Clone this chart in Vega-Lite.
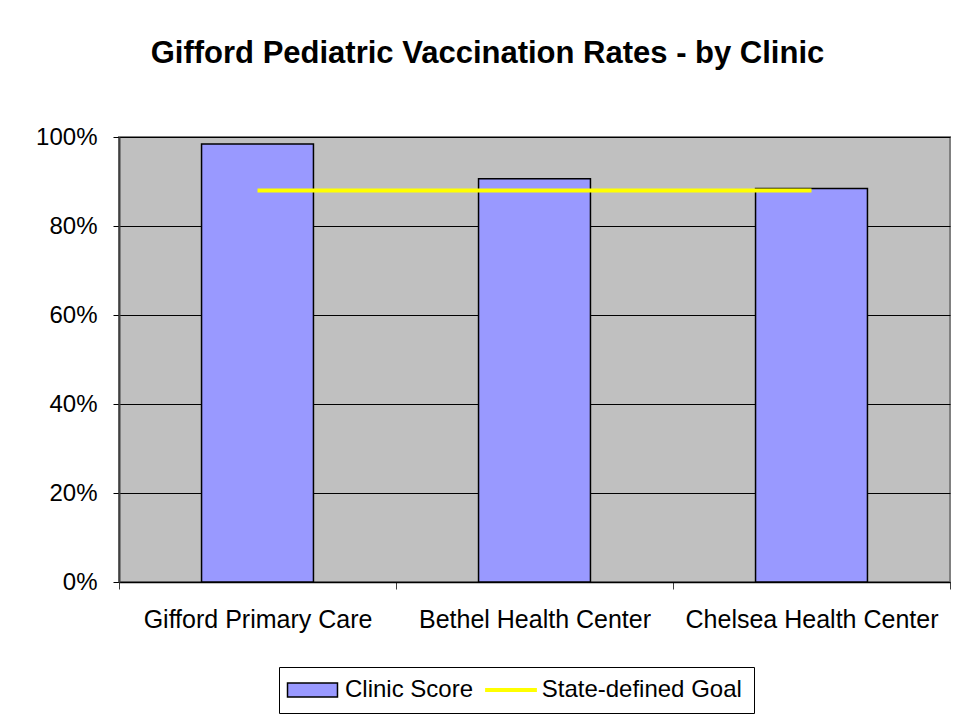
{
  "$schema": "https://vega.github.io/schema/vega-lite/v6.json",
  "autosize": "none",
  "width": 831,
  "height": 445,
  "padding": {"left": 119, "top": 137, "right": 7, "bottom": 135},
  "background": "white",
  "title": {
    "text": "Gifford Pediatric Vaccination Rates - by Clinic",
    "font": "Liberation Sans",
    "fontSize": 31,
    "fontWeight": "bold",
    "color": "black",
    "anchor": "middle",
    "baseline": "alphabetic",
    "offset": 31,
    "dx": -47
  },
  "config": {
    "font": "Liberation Sans",
    "view": {"fill": "#C0C0C0", "stroke": "#808080", "strokeWidth": 2}
  },
  "data": {
    "values": [
      {"clinic": "Gifford Primary Care", "score": 0.984, "goal": 0.88},
      {"clinic": "Bethel Health Center", "score": 0.906, "goal": 0.88},
      {"clinic": "Chelsea Health Center", "score": 0.884, "goal": 0.88}
    ]
  },
  "encoding": {
    "x": {
      "field": "clinic",
      "type": "nominal",
      "sort": null,
      "scale": {"paddingInner": 0, "paddingOuter": 0},
      "axis": {
        "title": null,
        "labelAngle": 0,
        "labelFontSize": 25,
        "labelColor": "black",
        "labelPadding": 18,
        "labelLimit": 0,
        "tickBand": "extent",
        "tickSize": 7,
        "tickColor": "#404040",
        "domainColor": "black",
        "domainWidth": 1.5,
        "grid": false
      }
    }
  },
  "layer": [
    {
      "mark": {"type": "bar", "width": {"band": 0.404}, "stroke": "black", "strokeWidth": 1.5},
      "encoding": {
        "y": {
          "field": "score",
          "type": "quantitative",
          "scale": {"domain": [0, 1], "nice": false},
          "axis": {
            "title": null,
            "values": [0, 0.2, 0.4, 0.6, 0.8, 1],
            "format": ".0%",
            "labelFontSize": 24,
            "labelColor": "black",
            "labelPadding": 16,
            "tickSize": 6,
            "tickColor": "black",
            "domainColor": "#404040",
            "domainWidth": 2,
            "grid": true,
            "gridColor": "black",
            "gridWidth": 1,
            "gridOpacity": 1
          }
        },
        "fill": {
          "datum": "Clinic Score",
          "type": "nominal",
          "scale": {"range": ["#9999FF"]},
          "legend": {
            "orient": "none",
            "legendX": 160,
            "legendY": 530,
            "direction": "horizontal",
            "title": "\u00a0",
            "titleOrient": "right",
            "titlePadding": 270,
            "titleFontSize": 24,
            "strokeColor": "black",
            "padding": 11,
            "labelFontSize": 24,
            "labelColor": "black",
            "labelLimit": 0,
            "symbolType": "M-3.57,-1H3.57V1H-3.57Z",
            "symbolSize": 196,
            "symbolOffset": 10.5,
            "symbolStrokeColor": "black",
            "symbolStrokeWidth": 1.5,
            "symbolOpacity": 1,
            "labelOffset": 20.5
          }
        }
      }
    },
    {
      "mark": {"type": "line", "strokeWidth": 4},
      "encoding": {
        "y": {"field": "goal", "type": "quantitative"},
        "stroke": {
          "datum": "State-defined Goal",
          "type": "nominal",
          "scale": {"range": ["#FFFF00"]},
          "legend": {
            "orient": "none",
            "legendX": 356,
            "legendY": 530,
            "direction": "horizontal",
            "title": null,
            "padding": 11,
            "labelFontSize": 24,
            "labelColor": "black",
            "labelLimit": 0,
            "symbolType": "M-3.7,0H3.7",
            "symbolSize": 196,
            "symbolOffset": 13,
            "symbolStrokeWidth": 4,
            "symbolOpacity": 1,
            "labelOffset": 18.7
          }
        }
      }
    }
  ]
}
